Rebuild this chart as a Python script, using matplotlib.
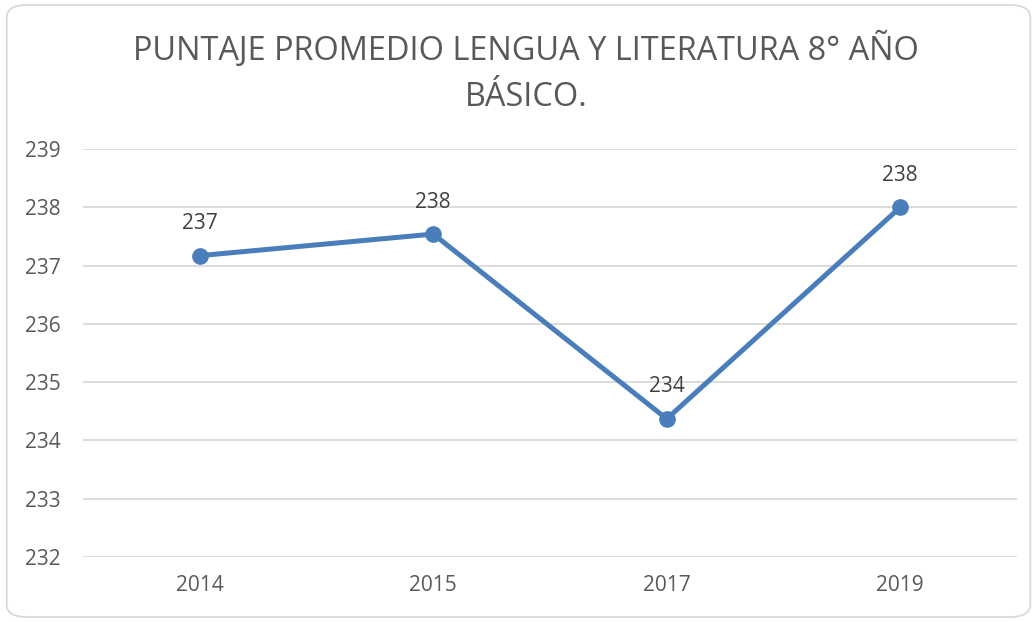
import matplotlib.pyplot as plt
from matplotlib.patches import FancyBboxPatch

years = ["2014", "2015", "2017", "2019"]
scores = [237.17, 237.54, 234.37, 238.0]
labels = ["237", "238", "234", "238"]

plt.rcParams["font.family"] = ["Open Sans", "DejaVu Sans"]

fig = plt.figure(figsize=(10.36, 6.22), dpi=100)
ax = fig.add_axes([0.0801, 0.1045, 0.9016, 0.656])

# chart border with rounded corners
border = FancyBboxPatch((0.0065, 0.008), 0.988, 0.984,
                        boxstyle="round,pad=0,rounding_size=0.02",
                        transform=fig.transFigure, facecolor="none",
                        edgecolor="#D9D9D9", linewidth=1.3)
fig.patches.append(border)

x = range(len(years))
ax.plot(x, scores, color="#4A7EBB", linewidth=3.6, marker="o",
        markersize=11, zorder=3)
for i, v in enumerate(scores):
    ax.annotate(labels[i], (i, v), xytext=(0, 23), textcoords="offset points",
                ha="center", va="center", fontsize=15, color="#404040")

ax.set_xlim(-0.5, len(years) - 0.5)
ax.set_ylim(232, 239)
ax.set_xticks(list(x))
ax.set_xticklabels(years)
ax.set_yticks(range(232, 240))
ax.grid(axis="y", color="#D9D9D9", linewidth=1.3)
ax.set_axisbelow(True)
for s in ax.spines.values():
    s.set_visible(False)
ax.tick_params(length=0, labelsize=15, colors="#595959")
ax.tick_params(axis="y", pad=16)
ax.tick_params(axis="x", pad=13)

fig.text(0.508, 1 - 50 / 622, "PUNTAJE PROMEDIO LENGUA Y LITERATURA 8° AÑO",
         ha="center", va="center", fontsize=23.4, color="#595959")
fig.text(0.508, 1 - 97 / 622, "BÁSICO.",
         ha="center", va="center", fontsize=23.4, color="#595959")

fig.savefig("out.png", dpi=100)
